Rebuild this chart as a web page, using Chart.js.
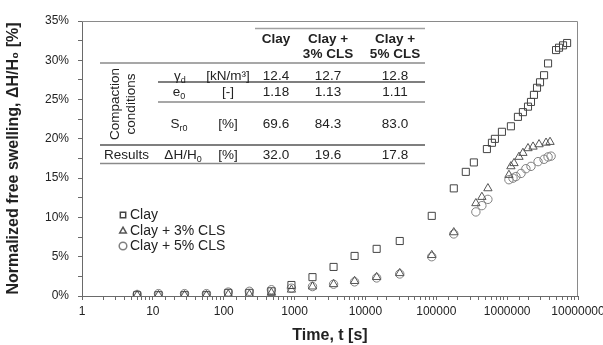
<!DOCTYPE html>
<html lang="en">
<head>
<meta charset="UTF-8">
<title>Free swelling vs time</title>
<script src="https://cdn.jsdelivr.net/npm/chart.js"></script>
<style>
    body { margin: 0; background: #fff; overflow: hidden; }
    #wrap { width: 640px; height: 345px; position: relative; }
</style>
</head>
<body>
<div id="wrap"><canvas id="swellChart"></canvas></div>
<script>
// time readings [s] and normalized swelling [%]
const clayTime = [6, 12, 28, 57, 116, 230, 471, 903, 1790, 3550, 7030, 14400, 30500, 86300, 176600,
    261000, 339000, 518000, 610000, 672000, 844000, 1130000, 1420000, 1670000, 1970000, 2170000,
    2390000, 2640000, 2910000, 3320000, 3780000, 4900000, 5400000, 6150000, 7020000];
const clayVal = [0.1, 0.1, 0.1, 0.1, 0.4, 0.4, 0.6, 1.4, 2.4, 3.7, 5.1, 6.0, 7.0, 10.2, 13.7,
    15.8, 17.0, 18.7, 19.5, 20.0, 20.9, 21.6, 22.8, 23.4, 24.1, 24.7,
    25.6, 26.5, 27.2, 28.1, 29.6, 31.3, 31.6, 31.9, 32.2];

const cls3Time = [6, 12, 28, 57, 116, 230, 471, 903, 1790, 3550, 7030, 14400, 30500, 86300, 176600,
    362000, 440000, 535000, 1060000, 1130000, 1250000, 1470000, 1670000, 1970000, 2320000,
    2820000, 3540000, 4030000];
const cls3Val = [0.1, 0.1, 0.1, 0.1, 0.2, 0.2, 0.4, 0.8, 1.2, 1.5, 1.9, 2.4, 2.9, 5.2, 8.1,
    11.8, 12.6, 13.7, 15.4, 16.5, 16.9, 17.7, 18.2, 18.8, 19.0,
    19.3, 19.5, 19.6];

const cls5Time = [6, 12, 28, 57, 116, 230, 471, 903, 1790, 3550, 7030, 14400, 30500, 86300, 176600,
    362000, 440000, 535000, 1060000, 1210000, 1330000, 1570000, 1840000, 2170000, 2730000,
    3320000, 3780000, 4170000];
const cls5Val = [0.2, 0.3, 0.3, 0.3, 0.5, 0.6, 0.8, 1.0, 1.2, 1.5, 1.8, 2.3, 2.8, 5.0, 7.9,
    10.7, 11.5, 12.3, 14.8, 15.0, 15.2, 15.6, 16.2, 16.5, 17.1,
    17.4, 17.7, 17.8];

const seriesNames = ['Clay', 'Clay + 3% CLS', 'Clay + 5% CLS'];

// inset table
const tableHeads = [['Clay'], ['Clay +', '3% CLS'], ['Clay +', '5% CLS']];
const gammaD = ['12.4', '12.7', '12.8'];
const voidRatio = ['1.18', '1.13', '1.11'];
const saturation = ['69.6', '84.3', '83.0'];
const swelling = ['32.0', '19.6', '17.8'];

const FONT = '"Liberation Sans", Arial, sans-serif';
const ink = '#222';

function pts(xs, ys) {
    return xs.map((t, i) => ({ x: t, y: ys[i] }));
}

// draws text pieces, some as subscript: parts = [[text, isSub], ...]
function rich(ctx, parts, x, y, align, size, bold) {
    let big = (bold ? 'bold ' : '') + size + 'px ' + FONT;
    let small = (bold ? 'bold ' : '') + Math.round(size * 0.68) + 'px ' + FONT;
    let w = 0;
    for (let p of parts) {
        ctx.font = p[1] ? small : big;
        w += ctx.measureText(p[0]).width;
    }
    let cx = align == 'center' ? x - w / 2 : (align == 'right' ? x - w : x);
    ctx.textAlign = 'left';
    ctx.textBaseline = 'middle';
    for (let p of parts) {
        ctx.font = p[1] ? small : big;
        ctx.fillText(p[0], cx, p[1] ? y + size * 0.3 : y);
        cx += ctx.measureText(p[0]).width;
    }
}

function hline(ctx, x1, x2, y, color) {
    ctx.strokeStyle = color;
    ctx.lineWidth = 1.5;
    ctx.beginPath();
    ctx.moveTo(x1, y);
    ctx.lineTo(x2, y);
    ctx.stroke();
}

const extras = {
    id: 'extras',
    beforeDatasetsDraw(chart) {
        let ctx = chart.ctx, a = chart.chartArea;
        ctx.save();
        ctx.strokeStyle = '#8a8a8a';
        ctx.lineWidth = 1;
        ctx.beginPath();
        ctx.moveTo(a.left, a.top + 0.5);
        ctx.lineTo(a.right - 0.5, a.top + 0.5);
        ctx.lineTo(a.right - 0.5, a.bottom);
        ctx.stroke();
        ctx.restore();
    },
    afterDatasetsDraw(chart) {
        let ctx = chart.ctx;
        ctx.save();
        ctx.fillStyle = ink;
        const fs = 13.5;
        const colX = [276, 328, 395];

        // table rules
        hline(ctx, 255, 425, 28.5, '#a0a0a0');
        hline(ctx, 100, 425, 63, '#8a8a8a');
        hline(ctx, 158, 425, 82, '#555');
        hline(ctx, 158, 425, 102, '#8a8a8a');
        hline(ctx, 100, 425, 145, '#555');
        hline(ctx, 100, 425, 163.5, '#8a8a8a');

        ctx.fillStyle = ink;
        tableHeads.forEach((lines, i) => {
            lines.forEach((l, j) => rich(ctx, [[l, false]], colX[i], 39 + j * 15, 'center', fs, true));
        });

        // rotated row group label
        ctx.save();
        ctx.font = fs + 'px ' + FONT;
        ctx.textAlign = 'center';
        ctx.textBaseline = 'middle';
        ctx.translate(115, 104);
        ctx.rotate(-Math.PI / 2);
        ctx.fillText('Compaction', 0, 0);
        ctx.fillText('conditions', 0, 16);
        ctx.restore();

        rich(ctx, [['γ', false], ['d', true]], 180, 76, 'center', fs);
        rich(ctx, [['[kN/m³]', false]], 228, 76, 'center', fs);
        rich(ctx, [['e', false], ['0', true]], 179, 92, 'center', fs);
        rich(ctx, [['[-]', false]], 228, 92, 'center', fs);
        rich(ctx, [['S', false], ['r0', true]], 179, 124, 'center', fs);
        rich(ctx, [['[%]', false]], 228, 124, 'center', fs);
        rich(ctx, [['Results', false]], 104, 155, 'left', fs);
        rich(ctx, [['ΔH/H', false], ['0', true]], 183, 155, 'center', fs);
        rich(ctx, [['[%]', false]], 228, 155, 'center', fs);

        colX.forEach((x, i) => {
            rich(ctx, [[gammaD[i], false]], x, 76, 'center', fs);
            rich(ctx, [[voidRatio[i], false]], x, 92, 'center', fs);
            rich(ctx, [[saturation[i], false]], x, 124, 'center', fs);
            rich(ctx, [[swelling[i], false]], x, 155, 'center', fs);
        });

        // legend
        const legendY = [215, 231, 246];
        chart.data.datasets.forEach((ds, i) => {
            ctx.strokeStyle = ds.pointBorderColor;
            ctx.fillStyle = 'rgba(0,0,0,0)';
            Chart.helpers.drawPoint(ctx, { pointStyle: ds.pointStyle, radius: 3.8, borderWidth: 1, rotation: 0 }, 123, legendY[i]);
            ctx.fillStyle = ink;
            rich(ctx, [[ds.label, false]], 130, legendY[i], 'left', 14);
        });
        ctx.restore();
    }
};

let ctxSwell = document.getElementById('swellChart').getContext('2d');
let swellChart = new Chart(ctxSwell, {
    type: 'scatter',
    data: {
        datasets: [{
            label: seriesNames[0],
            data: pts(clayTime, clayVal),
            pointStyle: 'rect',
            pointRadius: 5,
            pointBorderWidth: 1,
            pointBorderColor: '#444',
            pointBackgroundColor: 'rgba(0,0,0,0)'
        }, {
            label: seriesNames[1],
            data: pts(cls3Time, cls3Val),
            pointStyle: 'triangle',
            pointRadius: 4.8,
            pointBorderWidth: 1,
            pointBorderColor: '#555',
            pointBackgroundColor: 'rgba(0,0,0,0)'
        }, {
            label: seriesNames[2],
            data: pts(cls5Time, cls5Val),
            pointStyle: 'circle',
            pointRadius: 4.2,
            pointBorderWidth: 1,
            pointBorderColor: '#808080',
            pointBackgroundColor: 'rgba(0,0,0,0)'
        }]
    },
    options: {
        responsive: true,
        maintainAspectRatio: false,
        animation: false,
        events: [],
        layout: { padding: { top: 21, right: 62, left: 0, bottom: 0 } },
        plugins: { legend: { display: false }, tooltip: { enabled: false } },
        scales: {
            x: {
                type: 'logarithmic',
                min: 1,
                max: 10000000,
                afterFit: s => { s.height = 49; },
                border: { color: '#6a6a6a', width: 1 },
                grid: { drawOnChartArea: false, tickLength: 4, tickColor: '#6a6a6a' },
                ticks: {
                    autoSkip: false,
                    maxRotation: 0,
                    minRotation: 0,
                    padding: 4,
                    color: ink,
                    font: { family: FONT, size: 12 },
                    callback: v => {
                        let l = Math.log10(v);
                        return Math.abs(l - Math.round(l)) < 1e-9 ? String(v) : '';
                    }
                },
                title: {
                    display: true,
                    text: 'Time, t [s]',
                    color: ink,
                    font: { family: FONT, size: 16, weight: 'bold' },
                    padding: { top: 0, bottom: 0 }
                }
            },
            y: {
                min: 0,
                max: 35,
                afterFit: s => { s.width = 82; },
                border: { color: '#6a6a6a', width: 1 },
                grid: { drawOnChartArea: false, tickLength: 4, tickColor: '#6a6a6a' },
                ticks: {
                    stepSize: 2.5,
                    padding: 9,
                    color: ink,
                    font: { family: FONT, size: 12 },
                    callback: v => (v % 5 === 0 ? v + '%' : '')
                },
                title: {
                    display: true,
                    text: 'Normalized free swelling, ΔH/H₀ [%]',
                    color: ink,
                    font: { family: FONT, size: 16, weight: 'bold' },
                    padding: { top: 4, bottom: 0 }
                }
            }
        }
    },
    plugins: [extras]
});
</script>
</body>
</html>
